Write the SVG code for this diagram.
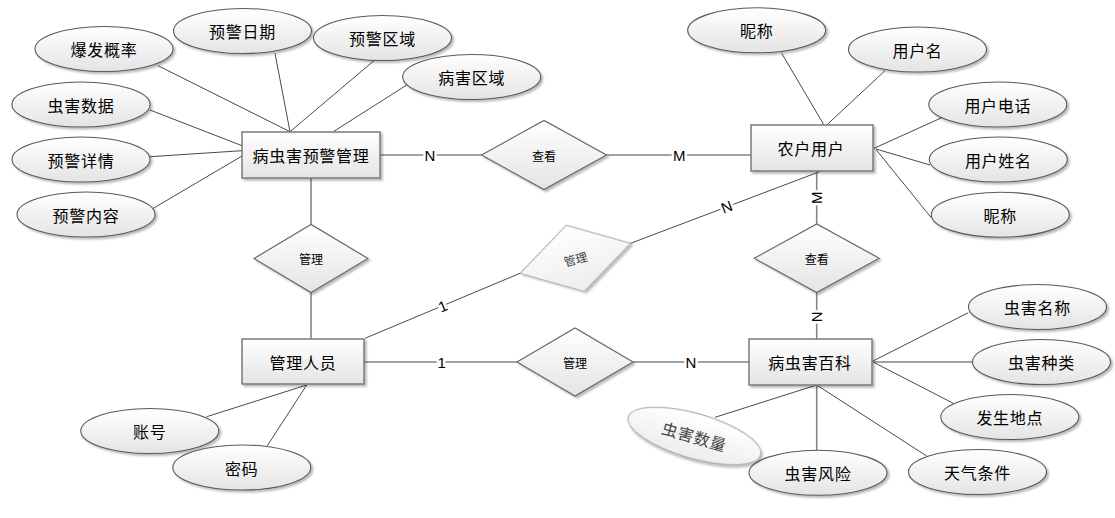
<svg xmlns="http://www.w3.org/2000/svg" width="1115" height="518" viewBox="0 0 1115 518">
<defs>
<linearGradient id="g" x1="0" y1="0" x2="0" y2="1">
<stop offset="0" stop-color="#ffffff"/>
<stop offset="1" stop-color="#e4e4e4"/>
</linearGradient>
<linearGradient id="gl" x1="0" y1="0" x2="0" y2="1">
<stop offset="0" stop-color="#ffffff"/>
<stop offset="1" stop-color="#ededed"/>
</linearGradient>
<filter id="sh" x="-10%" y="-20%" width="125%" height="150%">
<feDropShadow dx="2" dy="2" stdDeviation="1.2" flood-color="#000" flood-opacity="0.28"/>
</filter>
</defs>
<style>
.ent{fill:url(#g);stroke:#7a7a7a;stroke-width:1.5;filter:url(#sh)}
.att{fill:url(#g);stroke:#5a5a5a;stroke-width:1.1;filter:url(#sh)}
.rel{fill:url(#g);stroke:#666;stroke-width:1.1;filter:url(#sh)}
.lt{fill:url(#gl);stroke:#9a9a9a;stroke-width:1;filter:url(#sh)}
.t{font-family:"Noto Sans CJK SC","Noto Sans",sans-serif;font-size:16px;letter-spacing:0.7px;fill:#000;text-anchor:middle;dominant-baseline:central}
.ts{font-family:"Noto Sans CJK SC","Noto Sans",sans-serif;font-size:12px;fill:#000;text-anchor:middle;dominant-baseline:central}
.tg{fill:#444}
.c{stroke:#858585;stroke-width:1.6;fill:none}
.a{stroke:#4a4a4a;stroke-width:1;fill:none}
.lb{font-family:"Liberation Sans",Arial,sans-serif;font-size:15px;fill:#000;text-anchor:middle;dominant-baseline:central;paint-order:stroke;stroke:#fff;stroke-width:5px;stroke-linejoin:round}
</style>
<rect width="1115" height="518" fill="#fff"/>
<g id="connectors">
<line class="a" x1="158" y1="65.7" x2="290" y2="131.7"/>
<line class="a" x1="275" y1="53.3" x2="290" y2="131.7"/>
<line class="a" x1="374" y1="60.7" x2="290" y2="131.7"/>
<line class="a" x1="406.7" y1="85" x2="333.3" y2="131.7"/>
<line class="a" x1="150" y1="110" x2="242" y2="145.7"/>
<line class="a" x1="150" y1="156.7" x2="242" y2="150.7"/>
<line class="a" x1="153.3" y1="208.3" x2="242" y2="156"/>
<line class="c" x1="380" y1="155" x2="481.5" y2="155"/>
<line class="c" x1="606.5" y1="155" x2="751" y2="155"/>
<line class="c" x1="311" y1="178" x2="311" y2="224.5"/>
<line class="c" x1="311" y1="292.5" x2="311" y2="339"/>
<line class="a" x1="365" y1="338.3" x2="520" y2="273.3"/>
<line class="a" x1="630.7" y1="243.3" x2="820" y2="171.5"/>
<line class="c" x1="364" y1="362" x2="517" y2="362"/>
<line class="c" x1="633" y1="362" x2="749" y2="362"/>
<line class="a" x1="206.7" y1="416.7" x2="306.7" y2="385"/>
<line class="a" x1="267.3" y1="445.7" x2="306.7" y2="385"/>
<line class="a" x1="781.7" y1="53.3" x2="824" y2="125"/>
<line class="a" x1="885" y1="70.7" x2="826.7" y2="125"/>
<line class="a" x1="941.7" y1="117.7" x2="874" y2="148.3"/>
<line class="a" x1="930" y1="165" x2="876" y2="149"/>
<line class="a" x1="931.7" y1="218.3" x2="876" y2="149.5"/>
<line class="c" x1="816.7" y1="171" x2="816.7" y2="224"/>
<line class="c" x1="816.7" y1="292.5" x2="816.7" y2="339"/>
<line class="a" x1="968.3" y1="312.7" x2="873" y2="361"/>
<line class="c" x1="872" y1="362" x2="972.3" y2="362"/>
<line class="a" x1="953.3" y1="403.3" x2="874" y2="362.5"/>
<line class="a" x1="926.7" y1="456" x2="816.7" y2="385"/>
<line class="c" x1="816.7" y1="385" x2="816.7" y2="450"/>
<line class="a" x1="715" y1="417.3" x2="816.7" y2="385"/>
<text class="lb" x="430" y="155">N</text>
<text class="lb" x="679.3" y="155">M</text>
<text class="lb" x="442.7" y="306" transform="rotate(-22.7 442.7 306)">1</text>
<text class="lb" x="726.7" y="206.7" transform="rotate(-20.7 726.7 206.7)">N</text>
<text class="lb" x="441.7" y="362">1</text>
<text class="lb" x="691" y="362">N</text>
<text class="lb" x="816.7" y="197.7" transform="rotate(-90 816.7 197.7)">M</text>
<text class="lb" x="816.7" y="316.7" transform="rotate(-90 816.7 316.7)">N</text>
</g>
<g id="e-warning"><rect class="ent" x="242" y="132" width="138" height="46"/><text class="t" x="311" y="155">病虫害预警管理</text></g>
<g id="e-farmer"><rect class="ent" x="751" y="125" width="122" height="46"/><text class="t" x="811" y="148">农户用户</text></g>
<g id="e-admin"><rect class="ent" x="242" y="339" width="122" height="45"/><text class="t" x="303" y="361.5">管理人员</text></g>
<g id="e-wiki"><rect class="ent" x="749" y="339" width="123" height="46"/><text class="t" x="810" y="362">病虫害百科</text></g>
<g id="r-view1"><polygon class="rel" points="481.5,155 544,120.5 606.5,155 544,189.5"/><text class="ts" x="544" y="155">查看</text></g>
<g id="r-manage1"><polygon class="rel" points="254,258.5 311,224.5 368,258.5 311,292.5"/><text class="ts" x="311" y="258.5">管理</text></g>
<g id="r-view2"><polygon class="rel" points="754.2,258.3 816.7,224 879.2,258.3 816.7,292.6"/><text class="ts" x="816.7" y="258.3">查看</text></g>
<g id="r-manage2"><polygon class="rel" points="517,362 575,328 633,362 575,396"/><text class="ts" x="575" y="362">管理</text></g>
<g id="r-manage3" transform="rotate(-15.2 575.3 258.4)"><polygon class="lt" points="518,258.4 575.3,224.1 632.6,258.4 575.3,292.7"/><text class="ts tg" x="575.3" y="258.4">管理</text></g>
<g id="a1"><ellipse class="att" cx="104" cy="49" rx="69" ry="22.5"/><text class="t" x="104" y="49">爆发概率</text></g>
<g id="a2"><ellipse class="att" cx="242.5" cy="31" rx="69" ry="22.5"/><text class="t" x="242.5" y="31">预警日期</text></g>
<g id="a3"><ellipse class="att" cx="382.5" cy="38" rx="69" ry="22.5"/><text class="t" x="382.5" y="38">预警区域</text></g>
<g id="a4"><ellipse class="att" cx="471.7" cy="77" rx="69" ry="22.5"/><text class="t" x="471.7" y="77">病害区域</text></g>
<g id="a5"><ellipse class="att" cx="81" cy="104.5" rx="69" ry="22.5"/><text class="t" x="81" y="104.5">虫害数据</text></g>
<g id="a6"><ellipse class="att" cx="81" cy="159.5" rx="69" ry="22.5"/><text class="t" x="81" y="159.5">预警详情</text></g>
<g id="a7"><ellipse class="att" cx="86" cy="214.5" rx="69" ry="22.5"/><text class="t" x="86" y="214.5">预警内容</text></g>
<g id="a8"><ellipse class="att" cx="756.7" cy="30.3" rx="69" ry="22.5"/><text class="t" x="756.7" y="30.3">昵称</text></g>
<g id="a9"><ellipse class="att" cx="917.5" cy="49.5" rx="69" ry="22.5"/><text class="t" x="917.5" y="49.5">用户名</text></g>
<g id="a10"><ellipse class="att" cx="997.8" cy="104.5" rx="69" ry="22.5"/><text class="t" x="997.8" y="104.5">用户电话</text></g>
<g id="a11"><ellipse class="att" cx="998.3" cy="159.5" rx="69" ry="22.5"/><text class="t" x="998.3" y="159.5">用户姓名</text></g>
<g id="a12"><ellipse class="att" cx="1000.3" cy="214.7" rx="69" ry="22.5"/><text class="t" x="1000.3" y="214.7">昵称</text></g>
<g id="a13"><ellipse class="att" cx="1037.5" cy="307" rx="69" ry="22.5"/><text class="t" x="1037.5" y="307">虫害名称</text></g>
<g id="a14"><ellipse class="att" cx="1041.5" cy="362" rx="69" ry="22.5"/><text class="t" x="1041.5" y="362">虫害种类</text></g>
<g id="a15"><ellipse class="att" cx="1009.8" cy="417" rx="69" ry="22.5"/><text class="t" x="1009.8" y="417">发生地点</text></g>
<g id="a16"><ellipse class="att" cx="977.5" cy="472" rx="69" ry="22.5"/><text class="t" x="977.5" y="472">天气条件</text></g>
<g id="a17"><ellipse class="att" cx="818" cy="472.8" rx="69" ry="22.5"/><text class="t" x="818" y="472.8">虫害风险</text></g>
<g id="a19"><ellipse class="att" cx="149.8" cy="431" rx="69" ry="22.5"/><text class="t" x="149.8" y="431">账号</text></g>
<g id="a20"><ellipse class="att" cx="241.8" cy="467.5" rx="69" ry="22.5"/><text class="t" x="241.8" y="467.5">密码</text></g>
<g id="a18" transform="rotate(16 694.5 436)"><ellipse class="lt" cx="694.5" cy="436" rx="69" ry="22.5"/><text class="t tg" x="694.5" y="436">虫害数量</text></g>
</svg>
